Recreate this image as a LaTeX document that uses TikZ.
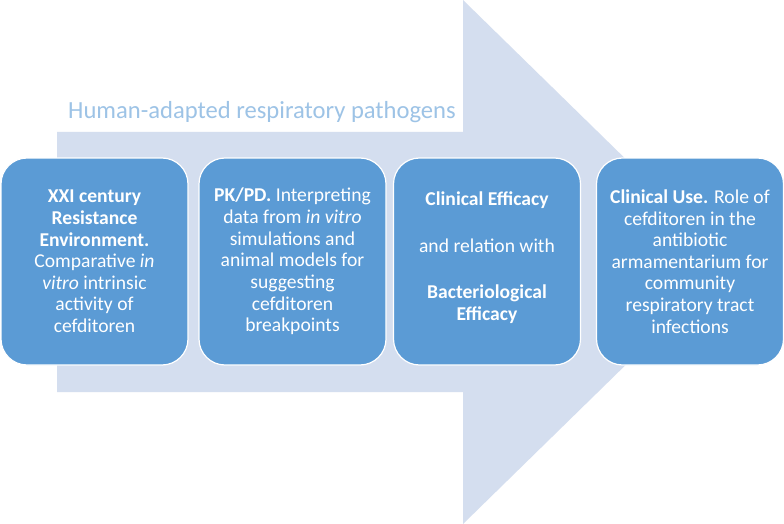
\documentclass[tikz,border=0pt]{standalone}
\usepackage{fontspec}
\setmainfont{Carlito}
\definecolor{arrowfill}{HTML}{D4DEEF}
\definecolor{boxfill}{HTML}{5B9BD5}
\definecolor{titleblue}{HTML}{9DC3E6}
\tikzset{
  stagebox/.style={draw=white, line width=1.2pt, fill=boxfill, rounded corners=26pt,
    minimum width=187pt, minimum height=207pt, inner sep=0pt},
  stagetext/.style={text=white, align=center, font=\fontsize{19.6}{21.6}\selectfont},
}
\begin{document}
\begin{tikzpicture}[x=1pt,y=-1pt]
\useasboundingbox (0,0) rectangle (784,524);
\fill[white] (0,0) rectangle (784,524);
% big arrow
\fill[arrowfill] (57,132) -- (463,132) -- (463,0) -- (731,262) -- (463,524) -- (463,392) -- (57,392) -- cycle;
\node[text=titleblue, font=\fontsize{24.6}{28}\selectfont, anchor=base west, inner sep=0pt] (title) at (68,119) {Human-adapted respiratory pathogens};
% boxes
\node[stagebox] (b1) at (94.5,261.5) {};
\node[stagebox] (b2) at (292.5,261.5) {};
\node[stagebox] (b3) at (487,261.5) {};
\node[stagebox] (b4) at (690,261.5) {};
\node[stagetext] (t1) at (b1.center) {\textbf{XXI century}\\\textbf{Resistance}\\\textbf{Environment.}\\Comparative \textit{in}\\\textit{vitro} intrinsic\\activity of\\cefditoren};
\node[stagetext] (t2) at (b2.center) {\textbf{PK/PD.} Interpreting\\data from \textit{in vitro}\\simulations and\\animal models for\\suggesting\\cefditoren\\breakpoints};
\node[stagetext] (t3) at ([yshift=4]b3.center) {\textbf{Clinical Efficacy}\\[25pt]and relation with\\[25pt]\textbf{Bacteriological}\\\textbf{Efficacy}};
\node[stagetext] (t4) at (b4.center) {\textbf{Clinical Use.} Role of\\cefditoren in the\\antibiotic\\armamentarium for\\community\\respiratory tract\\infections};
\end{tikzpicture}
\end{document}
